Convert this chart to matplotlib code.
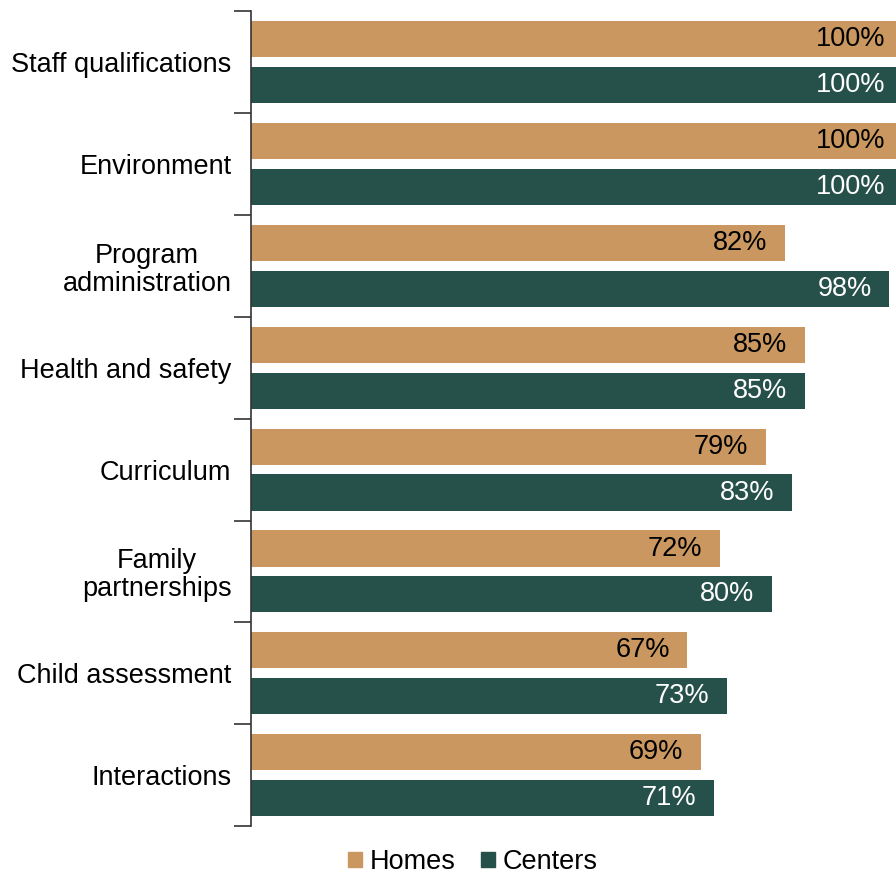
import matplotlib.pyplot as plt
import numpy as np
from matplotlib.patches import Patch

categories = ['Staff qualifications', 'Environment', 'Program\nadministration',
              'Health and safety', 'Curriculum', 'Family\npartnerships',
              'Child assessment', 'Interactions']
homes = [100, 100, 82, 85, 79, 72, 67, 69]
centers = [100, 100, 98, 85, 83, 80, 73, 71]

homes_color = '#C9975F'
centers_color = '#26514A'

plt.rcParams['font.family'] = ['Liberation Sans', 'DejaVu Sans']
fs = 19.5

fig = plt.figure(figsize=(8.96, 8.75), dpi=100)
ax = fig.add_axes([0.280, 0.056, 0.720, 0.931])

n = len(categories)
y = np.arange(n)
h = 0.355
ax.barh(y - 0.225, homes, height=h, color=homes_color)
ax.barh(y + 0.225, centers, height=h, color=centers_color)

for i in range(n):
    ax.text(homes[i] - 2.7, y[i] - 0.225, f'{homes[i]}%', ha='right', va='center',
            fontsize=fs, color='black')
    ax.text(centers[i] - 2.7, y[i] + 0.225, f'{centers[i]}%', ha='right', va='center',
            fontsize=fs, color='white')

ax.set_xlim(0, 99)
ax.set_ylim(n - 0.5, -0.5)
ax.set_yticks(y)
ax.set_yticklabels(categories, fontsize=fs, multialignment='center', linespacing=1.1)
ax.tick_params(axis='y', which='major', length=0, pad=14)
ax.set_yticks(np.arange(-0.5, n, 1), minor=True)
ax.tick_params(axis='y', which='minor', length=12, width=1.2, color='#333333')
ax.set_xticks([])
for s in ['top', 'right', 'bottom']:
    ax.spines[s].set_visible(False)
ax.spines['left'].set_color('#333333')
ax.spines['left'].set_linewidth(1.2)

handles = [Patch(color=homes_color, label='Homes'), Patch(color=centers_color, label='Centers')]
fig.legend(handles=handles, loc='lower center', bbox_to_anchor=(0.528, -0.028), ncol=2,
           frameon=False, fontsize=fs, handlelength=0.5, handleheight=0.5,
           handletextpad=0.3, columnspacing=0.95)

fig.savefig('out.png', dpi=100)
